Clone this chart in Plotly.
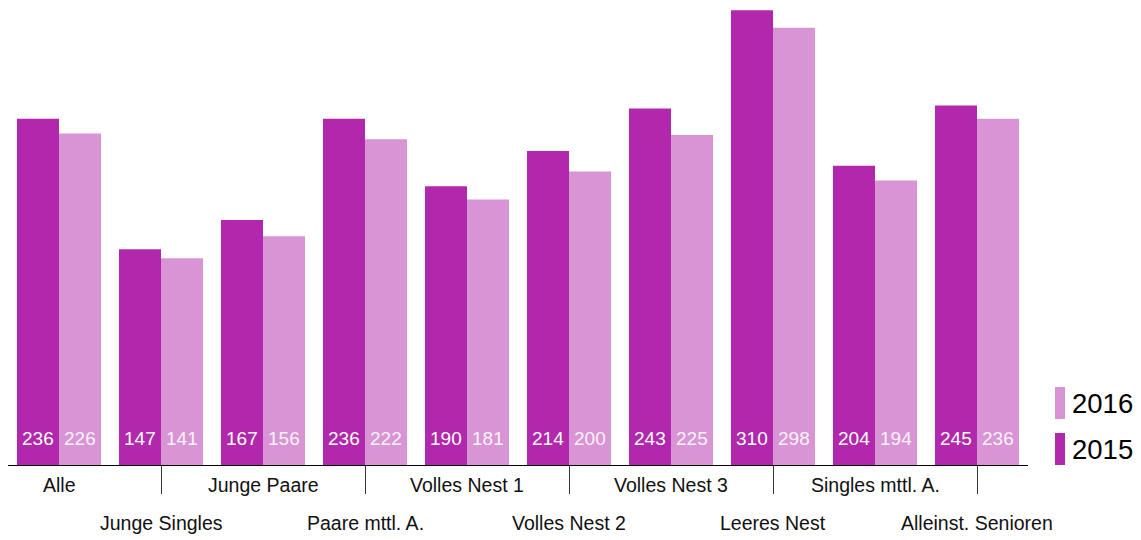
import plotly.graph_objects as go

# Household segments and their values per year
categories = [
    "Alle", "Junge Singles", "Junge Paare", "Paare mttl. A.", "Volles Nest 1",
    "Volles Nest 2", "Volles Nest 3", "Leeres Nest", "Singles mttl. A.",
    "Alleinst. Senioren",
]
values_2015 = [236, 147, 167, 236, 190, 214, 243, 310, 204, 245]
values_2016 = [226, 141, 156, 222, 181, 200, 225, 298, 194, 236]

series = [
    ("2015", values_2015, "#B228AC"),
    ("2016", values_2016, "#D894D4"),
]

FONT = "Liberation Sans, Arial, Helvetica, sans-serif"

fig = go.Figure()
for name, vals, color in series:
    fig.add_trace(go.Bar(
        x=categories, y=vals, name=name, marker=dict(color=color, line=dict(width=0)),
        showlegend=False, hoverinfo="x+y+name",
    ))

annotations = []
# value labels near the bottom of each bar
for i, (name, vals, color) in enumerate(series):
    shift = -21 if i == 0 else 21
    for cat, v in zip(categories, vals):
        annotations.append(dict(
            x=cat, y=0, xref="x", yref="y", text=str(v), showarrow=False,
            xshift=shift, yshift=27, yanchor="middle",
            font=dict(family=FONT, size=19, color="white" if i == 0 else "#f8f3f8"),
        ))

# staggered category labels in two rows
for idx, cat in enumerate(categories):
    annotations.append(dict(
        x=cat, y=0, xref="x", yref="paper", text=cat, showarrow=False,
        yshift=-20 if idx % 2 == 0 else -58, yanchor="middle",
        font=dict(family=FONT, size=19.5, color="#111111"),
    ))

# legend: tall swatches with year labels
shapes = []
legend_rows = [("2015", "#B228AC", 0), ("2016", "#D894D4", 46)]
for name, color, base in legend_rows:
    shapes.append(dict(
        type="rect", xref="paper", yref="paper", xsizemode="pixel", ysizemode="pixel",
        xanchor=1, yanchor=0, x0=27, x1=37, y0=base, y1=base + 32,
        fillcolor=color, line=dict(width=0),
    ))
    annotations.append(dict(
        x=1, y=0, xref="paper", yref="paper", xshift=42, yshift=base + 16,
        xanchor="left", yanchor="middle", text=name, showarrow=False,
        font=dict(family=FONT, size=27.5, color="black"),
    ))

odd_cats = [c for k, c in enumerate(categories) if k % 2 == 1]

fig.update_layout(
    width=1141, height=540,
    margin=dict(l=8, r=113, t=0, b=75),
    paper_bgcolor="white", plot_bgcolor="white",
    barmode="group", bargap=0.176, bargroupgap=0,
    annotations=annotations, shapes=shapes,
    xaxis=dict(
        type="category", categoryorder="array", categoryarray=categories,
        range=[-0.5, len(categories) - 0.5], autorange=False,
        showline=True, linecolor="black", linewidth=1,
        tickmode="array", tickvals=odd_cats, ticks="outside", ticklen=28,
        tickcolor="#333333", tickwidth=1, showticklabels=False, showgrid=False,
        zeroline=False, fixedrange=True,
    ),
    yaxis=dict(range=[0, 317], visible=False, showgrid=False, zeroline=False, fixedrange=True),
)

fig.write_html("out.html")
